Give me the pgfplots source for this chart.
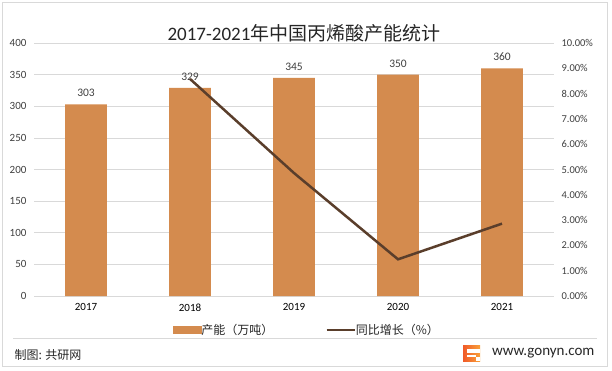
\documentclass[border=0pt]{standalone}
\usepackage{pgfplots}
\pgfplotsset{compat=1.18}
\usepackage{fontspec}
\setmainfont{Carlito}
\newfontfamily\cjk{Noto Sans CJK SC}
\definecolor{barc}{HTML}{D48B4E}
\definecolor{linec}{HTML}{5A3E2B}
\definecolor{gridc}{HTML}{D9D9D9}
\definecolor{txt}{HTML}{404040}
\definecolor{logoA}{HTML}{F05A28}
\definecolor{logoB}{HTML}{F9A13A}
\begin{document}
\begin{tikzpicture}[x=1pt,y=1pt]
\useasboundingbox (0,0) rectangle (612,370);
\draw[gridc, line width=0.8pt, fill=white] (2.5,3.5) rectangle (607.5,367.5);
\node[font=\fontsize{19}{22}\selectfont, text=black!85] at (304,337) {2017-2021{\cjk 年中国丙烯酸产能统计}};
\begin{axis}[
  at={(34pt,74pt)}, anchor=south west, scale only axis,
  width=520pt, height=253pt,
  xmin=-0.5, xmax=4.5, ymin=0, ymax=400,
  /pgf/number format/assume math mode=true,
  ytick={0,50,...,400},
  xtick={0,1,2,3,4},
  xticklabels={2017,2018,2019,2020,2021},
  ymajorgrids, grid style={gridc, line width=0.7pt},
  axis line style={draw=none},
  major tick length=0pt,
  tick label style={text=txt},
  yticklabel style={font=\fontsize{11}{12}\selectfont, xshift=-4pt},
  xticklabel style={font=\fontsize{11}{12}\selectfont, text=black, yshift=-4pt},
  clip=false,
]
\addplot[ybar, bar width=41.6pt, fill=barc, draw=none,
  nodes near coords,
  nodes near coords style={font=\fontsize{11.5}{12}\selectfont, text=txt, yshift=4pt}]
  coordinates {(0,303) (1,329) (2,345) (3,350) (4,360)};
\end{axis}
\begin{axis}[
  at={(34pt,74pt)}, anchor=south west, scale only axis,
  width=520pt, height=253pt,
  xmin=-0.5, xmax=4.5, ymin=0, ymax=10,
  /pgf/number format/assume math mode=true,
  axis y line*=right, axis x line=none,
  axis line style={draw=none},
  major tick length=0pt,
  ytick={0,1,2,3,4,5,6,7,8,9,10},
  yticklabels={0.00\%,1.00\%,2.00\%,3.00\%,4.00\%,5.00\%,6.00\%,7.00\%,8.00\%,9.00\%,10.00\%},
  yticklabel style={font=\fontsize{10.5}{12}\selectfont, text=txt, xshift=4pt},
  legend style={at={(0.525,-0.134)}, anchor=center, draw=none, fill=none,
    legend columns=2, font=\cjk\fontsize{12}{13}\selectfont,
    /tikz/every even column/.append style={column sep=50pt},
    /tikz/every odd column/.append style={column sep=-2pt},
    legend cell align=left, text=black!85},
  clip=false,
]
\addlegendimage{legend image code/.code={\fill[barc] (0pt,-3.5pt) rectangle (28pt,3.5pt);}}
\addlegendentry{产能（万吨）}
\addplot[linec, line width=2.5pt, mark=none,
  legend image code/.code={\draw[linec, line width=2.5pt] (0pt,0pt) -- (28pt,0pt);}]
  coordinates {(1,8.58) (2,4.86) (3,1.45) (4,2.86)};
\addlegendentry{同比增长（\%）}
\end{axis}
\draw[gridc, line width=0.7pt] (13,32) -- (597,32);
\node[anchor=west, font=\cjk\fontsize{12}{14}\selectfont, text=black!85] at (11,15) {制图: 共研网};
\node[anchor=east, font=\fontsize{15}{17}\selectfont, text=black!85] at (598,17) {www.gonyn.com};
\shade[left color=logoA, right color=logoB] (463,9) rectangle (480,25);
\fill[white] (467,17) rectangle (480,21);
\fill[white] (467,13) rectangle (476,15.5);
\fill[white] (476,9) rectangle (480,13);
\end{tikzpicture}
\end{document}
